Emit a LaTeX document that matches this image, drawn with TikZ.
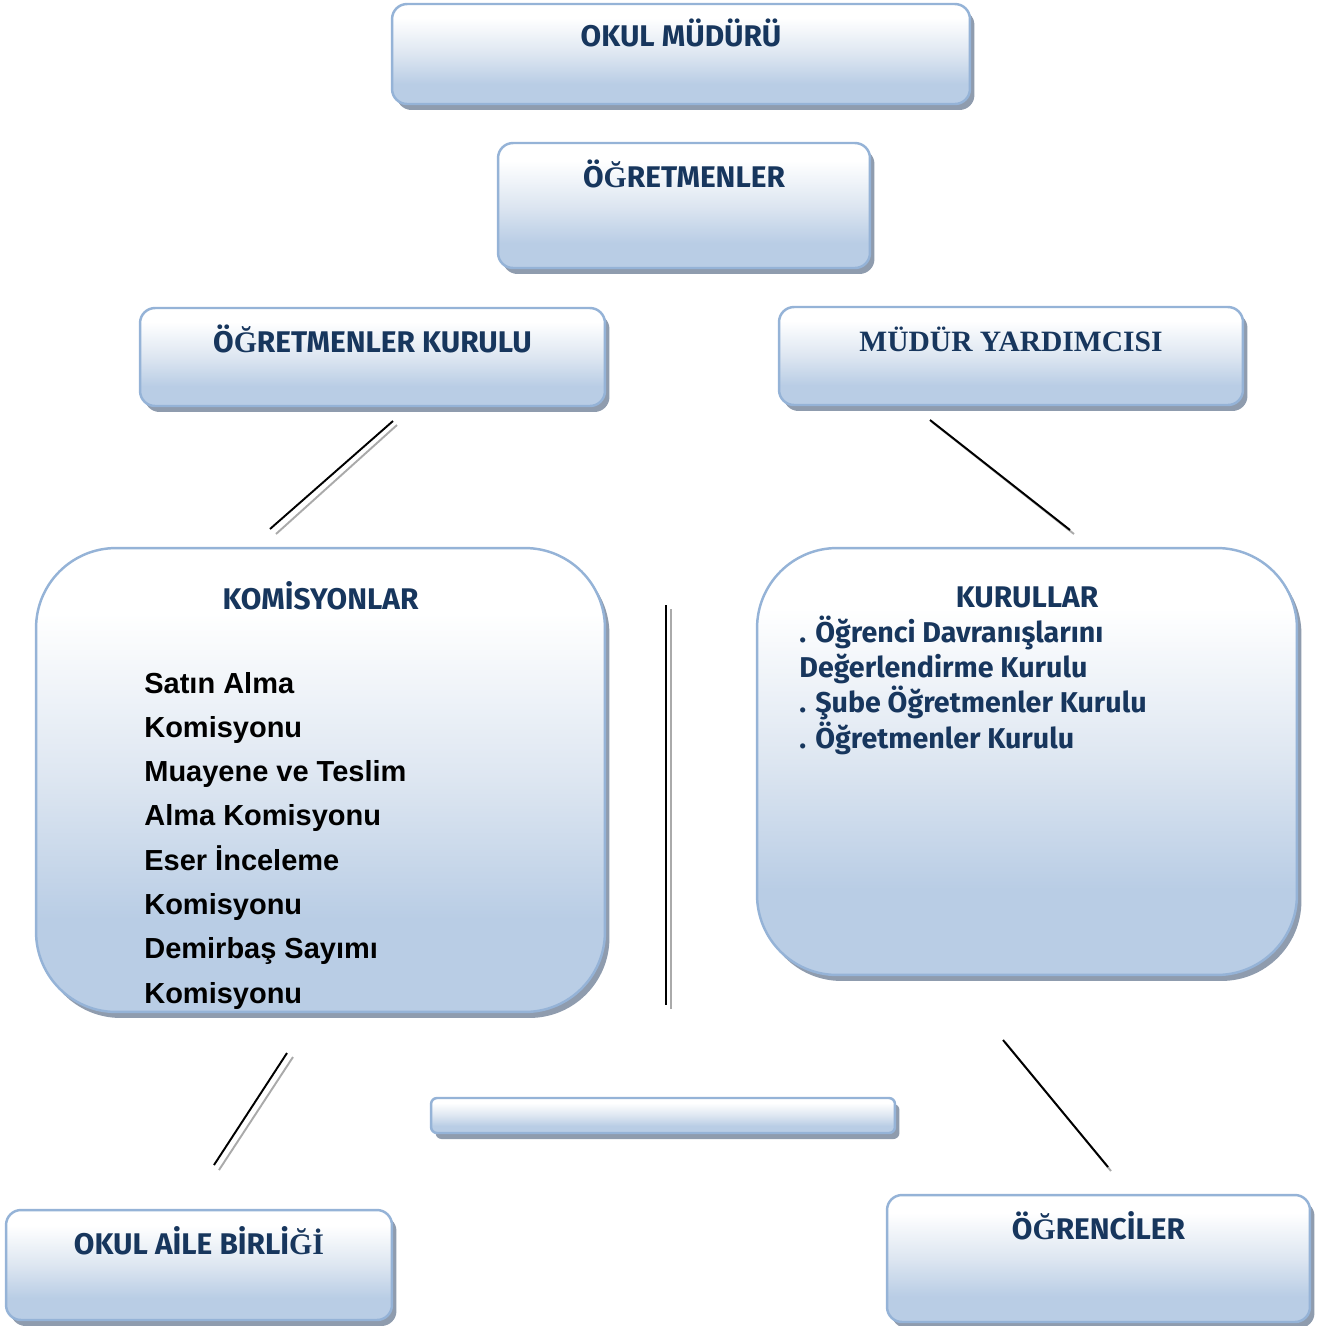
\documentclass[tikz,border=0pt]{standalone}
\usepackage{fontspec}
\setmainfont{Liberation Serif}
\newfontfamily\robofont{Fira Sans}
\newfontfamily\arialfont{Liberation Sans}
\usetikzlibrary{shadows}

\definecolor{boxblue}{RGB}{185,205,229}
\definecolor{boxmid}{RGB}{221,230,241}
\definecolor{boxline}{RGB}{149,179,215}
\definecolor{boxshadow}{RGB}{143,156,174}
\definecolor{navy}{RGB}{23,54,93}
\definecolor{linegray}{RGB}{170,170,170}

\pgfdeclareverticalshading{boxshade}{100bp}{color(0bp)=(boxblue); color(35bp)=(boxblue); color(50bp)=(boxmid); color(68bp)=(white); color(100bp)=(white)}

% serif G-breve as in the original titles
\newcommand{\sGb}{{\rmfamily Ğ}}

\begin{document}
\begin{tikzpicture}[x=0.02cm, y=-0.02cm,
      box/.style={draw=boxline, line width=1.4pt, rounded corners=0.3cm, shading=boxshade, inner sep=0pt,
        drop shadow={shadow xshift=0.09cm, shadow yshift=-0.12cm, fill=boxshadow, opacity=1}},
      bigbox/.style={box, rounded corners=1.6cm},
      title/.style={font=\robofont\bfseries\fontsize{17}{19}\selectfont, text=navy, inner sep=0pt, anchor=base},
      navylist/.style={font=\robofont\bfseries\fontsize{16.3}{20}\selectfont, text=navy, inner sep=0pt, align=left, anchor=base west},
      blacklist/.style={font=\arialfont\bfseries\fontsize{16.5}{25.2}\selectfont, text=black, inner sep=0pt, align=left, anchor=base west},
      blackline/.style={line width=1.1pt, black},
      grayline/.style={line width=1.1pt, linegray}
    ]
    \useasboundingbox (0,0) rectangle (1317,1326);

    \node[box, minimum width=11.56cm, minimum height=2cm,
      label={[title, yshift=-0.88cm]north:OKUL MÜDÜRÜ}] (mudur) at (681,54) {};
    \node[box, minimum width=7.44cm, minimum height=2.5cm,
      label={[title, yshift=-0.92cm]north:Ö\sGb RETMENLER}] (ogretmen) at (684,205.5) {};
    \node[box, minimum width=9.3cm, minimum height=1.96cm,
      label={[title, yshift=-0.92cm]north:Ö\sGb RETMENLER KURULU}] (okurul) at (372.5,357) {};
    \node[box, minimum width=9.28cm, minimum height=1.96cm,
      label={[title, font=\rmfamily\bfseries\fontsize{16.8}{19}\selectfont, yshift=-0.92cm]north:MÜDÜR YARDIMCISI}] (myard) at (1011,356) {};

    \node[bigbox, minimum width=11.38cm, minimum height=9.28cm,
      label={[title, yshift=-1.26cm]north:KOMİSYONLAR}] (komis) at (320.5,780) {};
    \node[bigbox, minimum width=10.8cm, minimum height=8.54cm,
      label={[title, yshift=-1.22cm]north:KURULLAR}] (kurul) at (1027,761.5) {};

    % base anchor of a multi-line node sits on its last line
    \node[blacklist] (komlist) at (144,1003) {Satın Alma\\Komisyonu\\Muayene ve Teslim\\Alma Komisyonu\\Eser İnceleme\\Komisyonu\\Demirbaş Sayımı\\Komisyonu};
    \node[navylist] (kurlist) at (799,748) {. Öğrenci Davranışlarını\\Değerlendirme Kurulu\\. Şube Öğretmenler Kurulu\\. Öğretmenler Kurulu};

    \node[box, rounded corners=0.12cm, minimum width=9.28cm, minimum height=0.7cm] (bar) at (663,1115.5) {};

    \node[box, minimum width=7.72cm, minimum height=2.2cm,
      label={[title, yshift=-0.92cm]north:OKUL AİLE BİRLİ\sGb{\rmfamily İ}}] (aile) at (199,1265) {};
    \node[box, minimum width=8.46cm, minimum height=2.54cm,
      label={[title, yshift=-0.92cm]north:Ö\sGb RENCİLER}] (ogrenci) at (1098.5,1258.5) {};

    % connecting strokes
    \coordinate (kk1) at (393,421);
    \coordinate (kk2) at (270,529);
    \coordinate (kk3) at (397,425);
    \coordinate (kk4) at (276,534);
    \draw[grayline] (kk3) -- (kk4);
    \draw[blackline] (kk1) -- (kk2);

    \coordinate (my1) at (930,420);
    \coordinate (my2) at (1070,530);
    \coordinate (my3) at (932,422);
    \coordinate (my4) at (1074,534);
    \draw[grayline] (my3) -- (my4);
    \draw[blackline] (my1) -- (my2);

    \coordinate (mid1) at (666,605);
    \coordinate (mid2) at (666,1005);
    \coordinate (mid3) at (671,609);
    \coordinate (mid4) at (671,1009);
    \draw[grayline] (mid3) -- (mid4);
    \draw[blackline] (mid1) -- (mid2);

    \coordinate (ai1) at (287,1053);
    \coordinate (ai2) at (214,1165);
    \coordinate (ai3) at (293,1057);
    \coordinate (ai4) at (219,1170);
    \draw[grayline] (ai3) -- (ai4);
    \draw[blackline] (ai1) -- (ai2);

    \coordinate (og1) at (1003,1040);
    \coordinate (og2) at (1108,1167);
    \coordinate (og3) at (1005,1042);
    \coordinate (og4) at (1111,1171);
    \draw[grayline] (og3) -- (og4);
    \draw[blackline] (og1) -- (og2);
  \end{tikzpicture}
\end{document}
